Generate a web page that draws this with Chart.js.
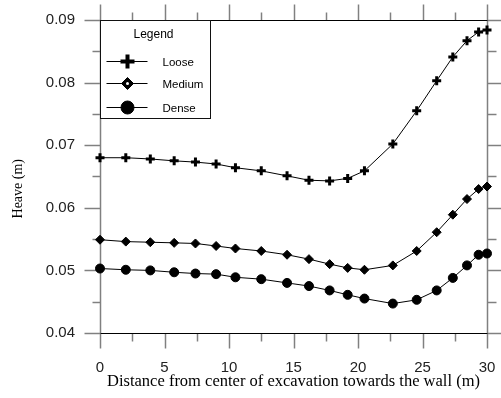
<!DOCTYPE html>
<html><head><meta charset="utf-8">
<script src="https://cdn.jsdelivr.net/npm/chart.js@4/dist/chart.umd.min.js"></script>
<style>html,body{margin:0;padding:0;background:#fff;}canvas{display:block;}</style>
</head><body>
<canvas id="c" width="501" height="398"></canvas>
<script>
const distance = [0, 2, 3.9, 5.75, 7.4, 9, 10.5, 12.5, 14.5, 16.2, 17.8, 19.2, 20.5, 22.7, 24.55, 26.1, 27.35, 28.45, 29.35, 30];
const loose  = [0.0680, 0.0680, 0.0678, 0.0675, 0.0673, 0.0670, 0.0664, 0.0659, 0.0651, 0.0644, 0.0643, 0.0647, 0.0659, 0.0702, 0.0755, 0.0803, 0.0841, 0.0867, 0.0881, 0.0884];
const medium = [0.0549, 0.0546, 0.0545, 0.0544, 0.0543, 0.0539, 0.0535, 0.0531, 0.0525, 0.0518, 0.0510, 0.0504, 0.0501, 0.0508, 0.0531, 0.0561, 0.0589, 0.0614, 0.0630, 0.0634];
const dense  = [0.0503, 0.0501, 0.0500, 0.0497, 0.0495, 0.0494, 0.0489, 0.0486, 0.0480, 0.0475, 0.0468, 0.0461, 0.0455, 0.0447, 0.0453, 0.0468, 0.0488, 0.0508, 0.0525, 0.0527];
const seriesNames = ['Loose', 'Medium', 'Dense'];
const xTicksMajor = [0, 5, 10, 15, 20, 25, 30];
const yTicksMajor = [0.04, 0.05, 0.06, 0.07, 0.08, 0.09];

const styles = [
  {pointStyle: 'cross', radius: 4.5, borderWidth: 3, legendRadius: 7, legendBW: 4},
  {pointStyle: 'rectRot', radius: 4.5, borderWidth: 1, legendRadius: 6, legendBW: 1},
  {pointStyle: 'circle', radius: 4.5, borderWidth: 1, legendRadius: 6.5, legendBW: 1}
];
const values = [loose, medium, dense];

const datasets = values.map((vals, i) => ({
  label: seriesNames[i],
  data: distance.map((d, j) => ({x: d, y: vals[j]})),
  borderColor: '#000',
  backgroundColor: '#000',
  borderWidth: 1,
  pointStyle: styles[i].pointStyle,
  pointRadius: styles[i].radius,
  pointBorderWidth: styles[i].borderWidth,
  pointBackgroundColor: '#000',
  pointBorderColor: '#000',
  tension: 0,
  clip: false
}));

function seg(ctx, x1, y1, x2, y2) {
  ctx.beginPath();
  ctx.moveTo(x1, y1);
  ctx.lineTo(x2, y2);
  ctx.stroke();
}

const framePlugin = {
  id: 'frame',
  beforeDatasetsDraw(chart) {
    const ctx = chart.ctx, a = chart.chartArea;
    const xs = chart.scales.x, ys = chart.scales.y;
    ctx.save();
    const L = Math.round(a.left) + 0.5, T = Math.round(a.top) + 0.5;
    const R = Math.round(a.right) + 0.5, B = Math.round(a.bottom) + 0.5;
    ctx.strokeStyle = '#808080';
    ctx.lineWidth = 1.5;
    for (let k = 0; k <= 12; k++) {
      const v = k * 2.5;
      const major = k % 2 === 0;
      const px = Math.round(xs.getPixelForValue(v)) + 0.5;
      seg(ctx, px, B, px, B + (major ? 15 : 8));
      seg(ctx, px, T, px, T - (major ? 16 : 8));
    }
    for (let k = 0; k <= 10; k++) {
      const v = 0.04 + k * 0.005;
      const major = k % 2 === 0;
      const py = Math.round(ys.getPixelForValue(v)) + 0.5;
      seg(ctx, L, py, L - (major ? 16 : 8), py);
      seg(ctx, R, py, R + (major ? 14 : 9), py);
    }
    seg(ctx, L, T, L, B);
    seg(ctx, R, T, R, B);
    ctx.strokeStyle = '#000';
    ctx.lineWidth = 1;
    seg(ctx, L, T, R, T);
    seg(ctx, L, B, R, B);
    ctx.restore();
  },
  afterDraw(chart) {
    const ctx = chart.ctx, a = chart.chartArea;
    const L = Math.round(a.left) + 0.5, T = Math.round(a.top) + 0.5;
    ctx.save();
    const bw = 110, bh = 98;
    ctx.lineWidth = 1;
    ctx.fillStyle = '#fff';
    ctx.fillRect(L, T, bw, bh);
    ctx.strokeStyle = '#111';
    ctx.strokeRect(L, T, bw, bh);
    ctx.fillStyle = '#000';
    ctx.font = '12px "Liberation Sans", Arial, sans-serif';
    ctx.textAlign = 'center';
    ctx.textBaseline = 'middle';
    ctx.fillText('Legend', L + 53, T + 14);
    const rows = [41, 63, 87];
    ctx.textAlign = 'left';
    ctx.font = '11.5px "Liberation Sans", Arial, sans-serif';
    seriesNames.forEach((name, i) => {
      const ry = T + rows[i];
      ctx.strokeStyle = '#000';
      ctx.lineWidth = 1;
      seg(ctx, L + 6, ry, L + 47, ry);
      ctx.lineWidth = styles[i].legendBW;
      ctx.fillStyle = '#000';
      Chart.helpers.drawPoint(ctx, {pointStyle: styles[i].pointStyle, radius: styles[i].legendRadius, borderWidth: styles[i].legendBW, rotation: 0}, L + 27, ry);
      if (i === 1) {
        ctx.fillStyle = '#fff';
        ctx.beginPath(); ctx.arc(L + 27, ry, 1.5, 0, Math.PI * 2); ctx.fill();
      }
      ctx.fillStyle = '#000';
      ctx.fillText(name, L + 62, ry + 1);
    });
    ctx.restore();
  }
};

new Chart(document.getElementById('c'), {
  type: 'line',
  data: {datasets},
  options: {
    responsive: false,
    animation: false,
    layout: {padding: {top: 20, right: 14, left: 0, bottom: 0}},
    plugins: {legend: {display: false}, tooltip: {enabled: false}},
    scales: {
      x: {
        type: 'linear', min: 0, max: 30,
        afterBuildTicks(s) { s.ticks = xTicksMajor.map(v => ({value: v})); },
        afterFit(s) { s.height = 65; s.paddingLeft = 0; s.paddingRight = 0; },
        grid: {display: false, drawTicks: false},
        border: {display: false},
        ticks: {color: '#222', padding: 26, font: {family: '"Liberation Sans", Arial, sans-serif', size: 15}, maxRotation: 0},
        title: {display: true, text: 'Distance from center of excavation towards the wall (m)', color: '#000',
                font: {family: '"Liberation Serif", "Times New Roman", serif', size: 16.5}, padding: {top: 0, bottom: 6}}
      },
      y: {
        type: 'linear', min: 0.04, max: 0.09,
        afterBuildTicks(s) { s.ticks = yTicksMajor.map(v => ({value: v})); },
        afterFit(s) { s.width = 100; s.paddingTop = 0; s.paddingBottom = 0; },
        grid: {display: false, drawTicks: false},
        border: {display: false},
        ticks: {color: '#222', padding: 25, font: {family: '"Liberation Sans", Arial, sans-serif', size: 15},
                callback: v => v.toFixed(2)},
        title: {display: true, text: 'Heave (m)\u00a0\u00a0\u00a0\u00a0\u00a0\u00a0\u00a0', color: '#000',
                font: {family: '"Liberation Serif", "Times New Roman", serif', size: 14}, padding: {top: 9.5, bottom: 0}}
      }
    }
  },
  plugins: [framePlugin]
});
</script>
</body></html>
